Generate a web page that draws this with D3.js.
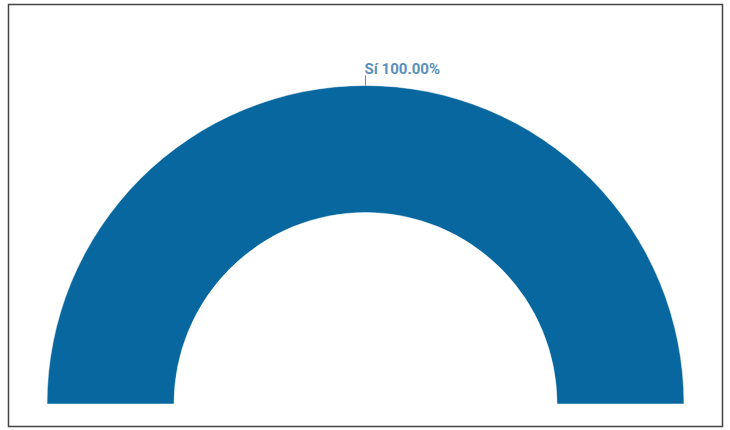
<!DOCTYPE html>
<html><head><meta charset="utf-8">
<script src="https://cdn.jsdelivr.net/npm/d3@7"></script>
<style>body{margin:0;background:#fff}svg{display:block}</style>
</head><body>
<script>
const categories = ["Sí"];
const values = [100];
const labels = ["Sí 100.00%"];

const W = 730, H = 430;
const svg = d3.select("body").append("svg").attr("width", W).attr("height", H);
svg.append("rect").attr("x", 8.5).attr("y", 4.5).attr("width", 714).attr("height", 422)
  .attr("fill", "#fff").attr("stroke", "#444").attr("stroke-width", 1.5);

const cx = 365.5, cy = 404, R = 318.5, r = 191.5;
const pie = d3.pie().sort(null).value(d => d).startAngle(-Math.PI/2).endAngle(Math.PI/2);
const arcs = pie(values);
const arc = d3.arc().innerRadius(r).outerRadius(R);
const g = svg.append("g").attr("transform", `translate(${cx},${cy})`);
g.selectAll("path").data(arcs).enter().append("path")
  .attr("d", arc).attr("fill", "#07679e").attr("stroke", "#fff").attr("stroke-width", 0.5);

arcs.forEach((a, i) => {
  const mid = (a.startAngle + a.endAngle) / 2;
  const x0 = Math.sin(mid) * R, y0 = -Math.cos(mid) * R;
  const x1 = Math.sin(mid) * (R + 10), y1 = -Math.cos(mid) * (R + 10);
  g.append("line").attr("x1", x0).attr("y1", y0).attr("x2", x1).attr("y2", y1)
    .attr("stroke", "#5a8fba").attr("stroke-width", 1);
  g.append("text").attr("x", x1 - 1).attr("y", y1 - 2)
    .attr("font-family", "Roboto, sans-serif").attr("font-weight", "bold").attr("font-size", 15)
    .attr("fill", "#5a8fba").text(labels[i]);
});
</script>
</body></html>
